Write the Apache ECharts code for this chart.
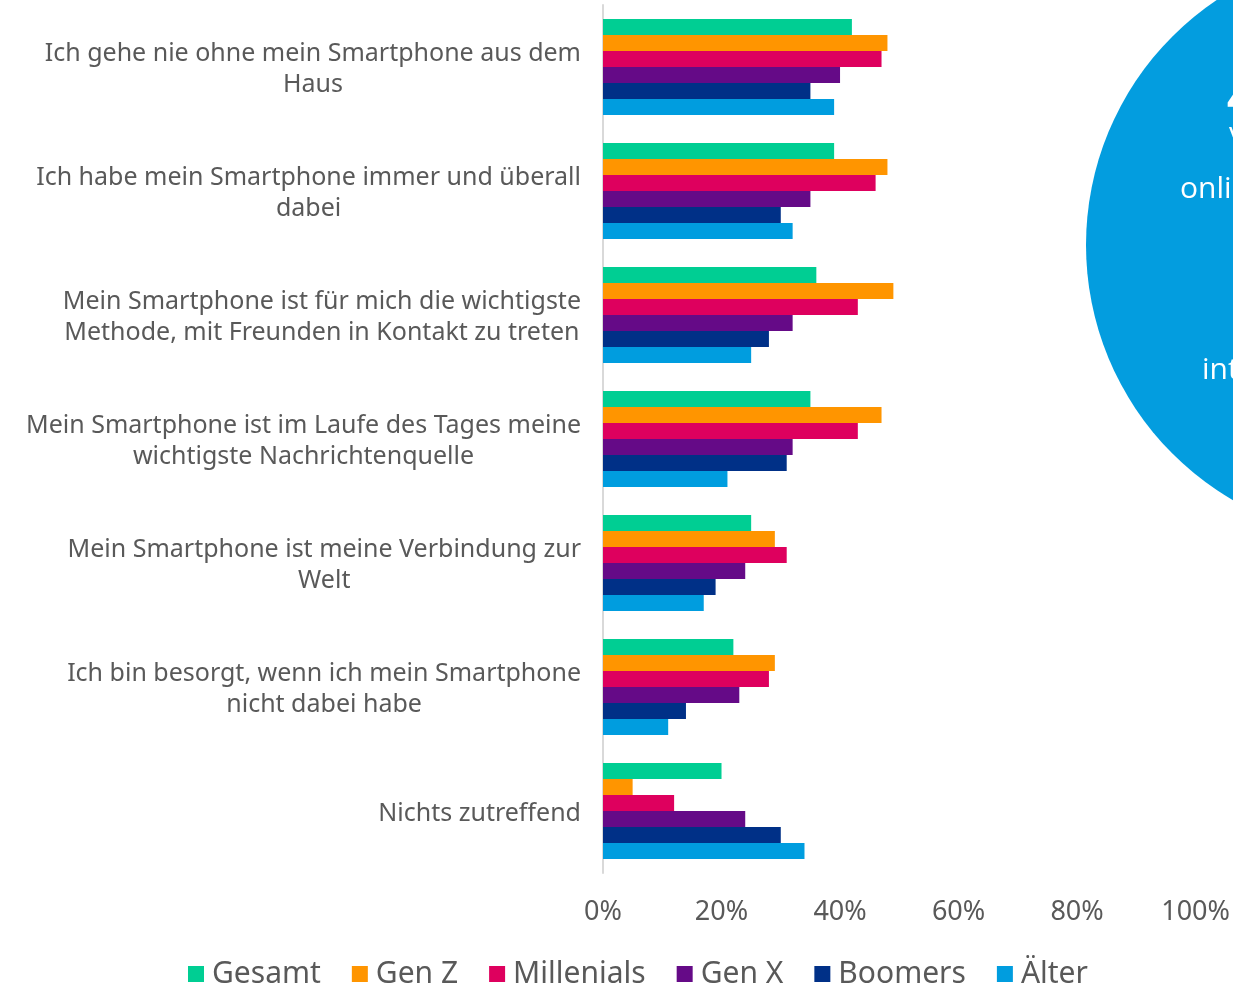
<!DOCTYPE html>
<html>
<head>
<meta charset="utf-8">
<script src="https://cdn.jsdelivr.net/npm/echarts@6/dist/echarts.min.js"></script>
<style>
  html, body { margin: 0; padding: 0; background: #ffffff; }
  #chart { width: 1233px; height: 989px; }
</style>
</head>
<body>
<div id="chart"></div>
<script>
// Survey statements (line breaks as they wrap on the axis)
const categories = [
  'Ich gehe nie ohne mein Smartphone aus dem\nHaus',
  'Ich habe mein Smartphone immer und überall\ndabei',
  'Mein Smartphone ist für mich die wichtigste\nMethode, mit Freunden in Kontakt zu treten',
  'Mein Smartphone ist im Laufe des Tages meine\nwichtigste Nachrichtenquelle',
  'Mein Smartphone ist meine Verbindung zur\nWelt',
  'Ich bin besorgt, wenn ich mein Smartphone\nnicht dabei habe',
  'Nichts zutreffend'
];

// Share of respondents agreeing, in percent
const gesamt     = [42, 39, 36, 35, 25, 22, 20];
const genZ       = [48, 48, 49, 47, 29, 29, 5];
const millenials = [47, 46, 43, 43, 31, 28, 12];
const genX       = [40, 35, 32, 32, 24, 23, 24];
const boomers    = [35, 30, 28, 31, 19, 14, 30];
const aelter     = [39, 32, 25, 21, 17, 11, 34];

const seriesNames = ['Gesamt', 'Gen Z', 'Millenials', 'Gen X', 'Boomers', 'Älter'];
const seriesData = [gesamt, genZ, millenials, genX, boomers, aelter];
const colors = ['#00CE93', '#FF9500', '#DE005E', '#650A87', '#003087', '#009DDF'];

const textGrey = '#595959';
const labelFont = 'Noto Sans';

const chart = echarts.init(document.getElementById('chart'), null, { renderer: 'canvas' });

const option = {
  backgroundColor: '#ffffff',
  animation: false,
  color: colors,
  grid: { left: 603, right: 37, top: 5, bottom: 116, containLabel: false },
  xAxis: {
    type: 'value',
    min: 0,
    max: 100,
    interval: 20,
    axisLine: { show: false },
    axisTick: { show: false },
    splitLine: { show: false },
    axisLabel: {
      formatter: '{value}%',
      color: textGrey,
      fontFamily: labelFont,
      fontSize: 27,
      margin: 26
    }
  },
  yAxis: {
    type: 'category',
    data: categories,
    inverse: true,
    axisTick: { show: false },
    axisLine: { show: true, lineStyle: { color: '#D9D9D9', width: 2 } },
    axisLabel: {
      align: 'right',
      margin: 22,
      padding: [5, 0, 0, 0],
      formatter: function (v) {
        return v.split('\n').map(function (s) { return '{t|' + s + '}'; }).join('\n');
      },
      rich: {
        t: {
          align: 'center',
          color: textGrey,
          fontFamily: labelFont,
          fontSize: 25,
          lineHeight: 31
        }
      }
    }
  },
  legend: {
    left: 183,
    top: 954,
    itemWidth: 16,
    itemHeight: 16,
    itemGap: 31,
    icon: 'rect',
    textStyle: { color: textGrey, fontFamily: labelFont, fontSize: 30, padding: [0, 0, 0, 3] },
    data: seriesNames
  },
  series: seriesNames.map(function (name, i) {
    return {
      name: name,
      type: 'bar',
      data: seriesData[i],
      barWidth: 16,
      barGap: '0%',
      itemStyle: { color: colors[i] }
    };
  }),
  graphic: [
    {
      type: 'circle',
      shape: { cx: 1381, cy: 245, r: 295 },
      style: { fill: '#039DDF' },
      z: 10
    },
    {
      type: 'text',
      left: 1227, top: 80,
      style: { text: '49%', fill: '#ffffff', font: 'bold 42px "Open Sans"' },
      z: 11
    },
    {
      type: 'text',
      left: 1229, top: 120,
      style: { text: 'von', fill: '#ffffff', font: '28px "Open Sans"' },
      z: 11
    },
    {
      type: 'text',
      left: 1180, top: 174,
      style: { text: 'online', fill: '#ffffff', font: '30px "Open Sans"' },
      z: 11
    },
    {
      type: 'text',
      left: 1202, top: 355,
      style: { text: 'interessiert', fill: '#ffffff', font: '30px "Open Sans"' },
      z: 11
    }
  ]
};

chart.setOption(option);
</script>
</body>
</html>
